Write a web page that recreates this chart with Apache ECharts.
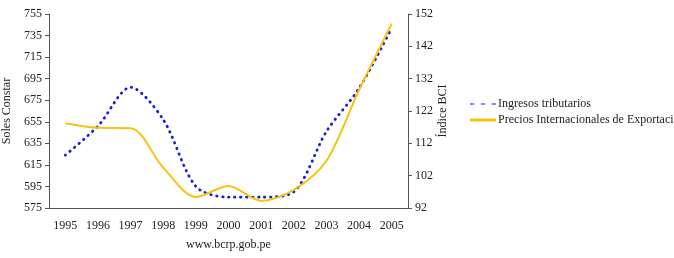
<!DOCTYPE html>
<html>
<head>
<meta charset="utf-8">
<script src="https://cdn.jsdelivr.net/npm/echarts@6/dist/echarts.min.js"></script>
<style>
  html, body { margin: 0; padding: 0; background: #fff; }
  #chart { width: 674px; height: 258px; }
</style>
</head>
<body>
<div id="chart"></div>
<script>
// datos anuales
const years = ["1995", "1996", "1997", "1998", "1999", "2000", "2001", "2002", "2003", "2004", "2005"];
const ingresos = [624, 651, 687, 657, 595, 585, 585, 590, 646, 686, 742];
const precios = [118.2, 116.8, 116.7, 104.5, 95.4, 98.8, 94.2, 97.6, 106.6, 128.5, 149];
const leftTicks = [575, 595, 615, 635, 655, 675, 695, 715, 735, 755];
const rightTicks = [92, 102, 112, 122, 132, 142, 152];

const font = "Liberation Serif";
const axisColor = "#555";
const blue = "#1c1cd6";
const yellow = "#f5c412";

const myChart = echarts.init(document.getElementById("chart"));

const option = {
  animation: false,
  textStyle: { fontFamily: font },
  grid: { left: 49, right: 266, top: 14, bottom: 50, outerBoundsMode: "none", containLabel: false },
  legend: {
    orient: "vertical",
    left: 465,
    top: 93,
    itemWidth: 26,
    itemHeight: 3,
    itemGap: 4,
    textStyle: { fontFamily: font, fontSize: 12, color: "#222", padding: [0, 0, 0, -3] },
    data: [
      {
        name: "Ingresos tributarios",
        icon: "path://M0,0h4v1h-4z M10,0h4v1h-4z M20,0h4v1h-4z",
        itemStyle: { color: blue }
      },
      {
        name: "Precios Internacionales de Exportación",
        icon: "rect",
        itemStyle: { color: yellow }
      }
    ]
  },
  graphic: [
    {
      type: "text",
      left: 186,
      top: 239,
      style: { text: "www.bcrp.gob.pe", fontFamily: font, fontSize: 12, fill: "#222" }
    }
  ],
  xAxis: {
    type: "category",
    data: years,
    boundaryGap: true,
    axisLine: { lineStyle: { color: axisColor } },
    axisTick: { alignWithLabel: false, length: 4, lineStyle: { color: axisColor } },
    axisLabel: { fontFamily: font, fontSize: 12, color: "#222", margin: 12 }
  },
  yAxis: [
    {
      type: "value",
      min: 575,
      max: 755,
      name: "Soles Constar",
      nameLocation: "middle",
      nameRotate: 90,
      nameGap: 35,
      nameTextStyle: { fontFamily: font, fontSize: 12, color: "#222" },
      axisLine: { show: true, lineStyle: { color: axisColor } },
      axisTick: { show: true, length: 4, customValues: leftTicks, lineStyle: { color: axisColor } },
      axisLabel: { fontFamily: font, fontSize: 12, color: "#222", margin: 7, customValues: leftTicks },
      splitLine: { show: false }
    },
    {
      type: "value",
      min: 92,
      max: 152,
      position: "right",
      name: "Índice BCI",
      nameLocation: "middle",
      nameRotate: 90,
      nameGap: 29,
      nameMoveOverlap: false,
      nameTextStyle: { fontFamily: font, fontSize: 12, color: "#222" },
      axisLine: { show: true, lineStyle: { color: axisColor } },
      axisTick: { show: true, length: 4, customValues: rightTicks, lineStyle: { color: axisColor } },
      axisLabel: { fontFamily: font, fontSize: 12, color: "#222", margin: 7, customValues: rightTicks },
      splitLine: { show: false }
    }
  ],
  series: [
    {
      name: "Ingresos tributarios",
      type: "line",
      yAxisIndex: 0,
      data: ingresos,
      smooth: 0.3,
      symbol: "none",
      lineStyle: { color: blue, width: 2.8, type: [0.5, 5.5], cap: "round" },
      itemStyle: { color: blue }
    },
    {
      name: "Precios Internacionales de Exportación",
      type: "line",
      yAxisIndex: 1,
      data: precios,
      smooth: 0.3,
      symbol: "none",
      lineStyle: { color: yellow, width: 2 },
      itemStyle: { color: yellow }
    }
  ]
};

myChart.setOption(option);
</script>
</body>
</html>
